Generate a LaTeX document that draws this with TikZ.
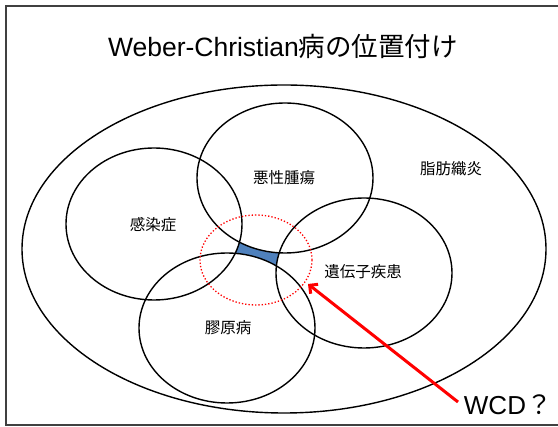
\documentclass[tikz,border=0pt]{standalone}
\usepackage{fontspec}
\setmainfont{Liberation Sans}
\newfontfamily\jp{Noto Sans CJK JP}
\usetikzlibrary{arrows.meta}
\definecolor{officeblue}{HTML}{4F81BD}
\definecolor{framegray}{HTML}{404040}
\begin{document}
\begin{tikzpicture}[x=1pt,y=-1pt,
  ring/.style={draw=black,line width=1.4pt},
  lbl/.style={font=\jp\fontsize{15.5}{17}\selectfont,inner sep=0pt}]
\useasboundingbox (0,0) rectangle (558,427);
% frame
\draw[framegray,line width=1.5pt] (560,6) -- (6,6) -- (6,425) -- (560,425);
% title
\node[inner sep=0pt,font=\fontsize{26.5}{30}\selectfont] (title) at (283,46) {Weber-Christian{\jp 病の位置付け}};
% big ellipse
\draw[ring] (284,249) ellipse [x radius=262,y radius=164];
% blue gap
\fill[officeblue] (230,235) rectangle (290,272);
\fill[white] (285,178) ellipse [x radius=88,y radius=75];
\fill[white] (154,224) ellipse [x radius=88,y radius=76];
\fill[white] (364,273) ellipse [x radius=88,y radius=75];
\fill[white] (227,328) ellipse [x radius=88,y radius=75];
% circles
\draw[ring] (285,178) ellipse [x radius=88,y radius=75];
\draw[ring] (154,224) ellipse [x radius=88,y radius=76];
\draw[ring] (364,273) ellipse [x radius=88,y radius=75];
\draw[ring] (227,328) ellipse [x radius=88,y radius=75];
% labels
\node[lbl] (akusei) at (284,178) {悪性腫瘍};
\node[lbl] (kansen) at (153,225) {感染症};
\node[lbl] (iden) at (363,272) {遺伝子疾患};
\node[lbl] (kogen) at (228,328) {膠原病};
\node[lbl] (shibou) at (451,169) {脂肪織炎};
% red dotted circle
\draw[red,dotted,line width=1.3pt] (256,260) ellipse [x radius=56,y radius=45];
\coordinate (tip) at (308,284);
% WCD label
\node[inner sep=0pt,font=\fontsize{26}{29}\selectfont] (wcd) at (508,405) {WCD{\jp ？}};
\coordinate (tail) at (458,402);
\draw[red,line width=3pt,-{Straight Barb[length=6pt,width=12pt]}] (tail) -- (tip);
\end{tikzpicture}
\end{document}
